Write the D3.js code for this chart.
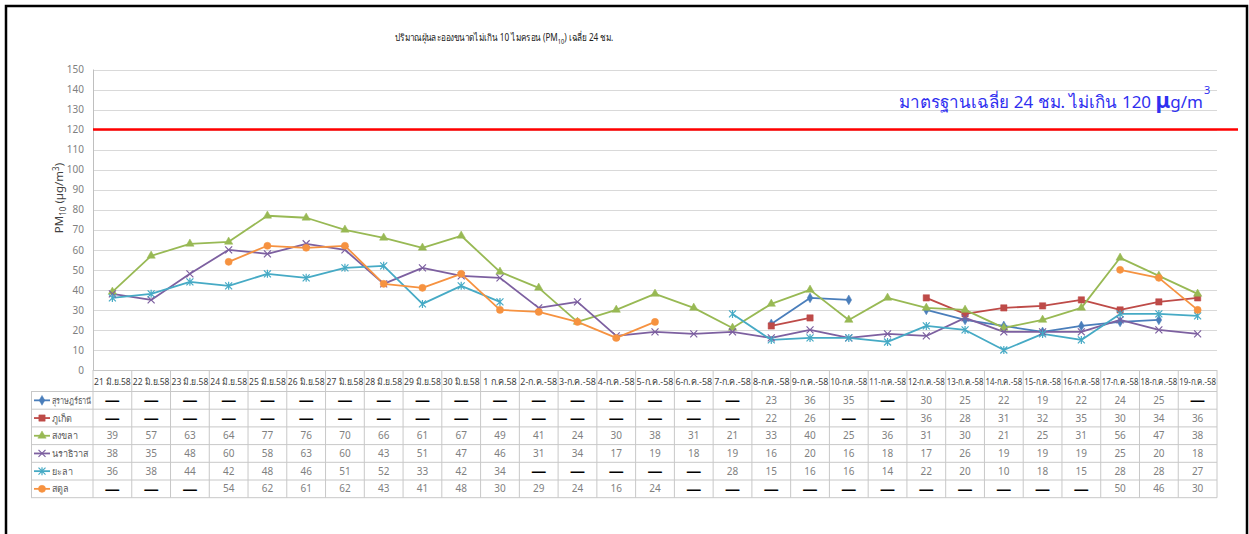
<!DOCTYPE html>
<html>
<head>
<meta charset="utf-8">
<script src="https://cdn.jsdelivr.net/npm/d3@7"></script>
<style>
  body { margin: 0; background: #fff; }
  svg { display: block; font-family: Tahoma, "Noto Sans", "DejaVu Sans", sans-serif; }
</style>
</head>
<body>
<div id="main"></div>
<script>
// Categories (dates)
const dates = ['21 มิ.ย.58', '22 มิ.ย.58', '23 มิ.ย.58', '24 มิ.ย.58', '25 มิ.ย.58', '26 มิ.ย.58', '27 มิ.ย.58',
  '28 มิ.ย.58', '29 มิ.ย.58', '30 มิ.ย.58', '1 ก.ค.58', '2-ก.ค.-58', '3-ก.ค.-58', '4-ก.ค.-58', '5-ก.ค.-58',
  '6-ก.ค.-58', '7-ก.ค.-58', '8-ก.ค.-58', '9-ก.ค.-58', '10-ก.ค.-58', '11-ก.ค.-58', '12-ก.ค.-58', '13-ก.ค.-58',
  '14-ก.ค.-58', '15-ก.ค.-58', '16-ก.ค.-58', '17-ก.ค.-58', '18-ก.ค.-58', '19-ก.ค.-58'];

// Series values (null = no data)
const surat = [null, null, null, null, null, null, null, null, null, null, null, null, null, null, null, null, null,
  23, 36, 35, null, 30, 25, 22, 19, 22, 24, 25, null];
const phuket = [null, null, null, null, null, null, null, null, null, null, null, null, null, null, null, null, null,
  22, 26, null, null, 36, 28, 31, 32, 35, 30, 34, 36];
const songkhla = [39, 57, 63, 64, 77, 76, 70, 66, 61, 67, 49, 41, 24, 30, 38, 31, 21, 33, 40, 25, 36, 31, 30, 21, 25, 31, 56, 47, 38];
const narathiwat = [38, 35, 48, 60, 58, 63, 60, 43, 51, 47, 46, 31, 34, 17, 19, 18, 19, 16, 20, 16, 18, 17, 26, 19, 19, 19, 25, 20, 18];
const yala = [36, 38, 44, 42, 48, 46, 51, 52, 33, 42, 34, null, null, null, null, null, 28, 15, 16, 16, 14, 22, 20, 10, 18, 15, 28, 28, 27];
const satun = [null, null, null, 54, 62, 61, 62, 43, 41, 48, 30, 29, 24, 16, 24, null, null, null, null, null, null,
  null, null, null, null, null, 50, 46, 30];

const seriesNames = ['สุราษฎร์ธานี', 'ภูเก็ต', 'สงขลา', 'นราธิวาส', 'ยะลา', 'สตูล'];
const yTicks = [0, 10, 20, 30, 40, 50, 60, 70, 80, 90, 100, 110, 120, 130, 140, 150];
const standardValue = 120;

const series = [
  { name: seriesNames[0], values: surat, color: '#4a7ebb', marker: 'diamond' },
  { name: seriesNames[1], values: phuket, color: '#be4b48', marker: 'square' },
  { name: seriesNames[2], values: songkhla, color: '#98b954', marker: 'triangle' },
  { name: seriesNames[3], values: narathiwat, color: '#7d60a0', marker: 'x' },
  { name: seriesNames[4], values: yala, color: '#46aac5', marker: 'star' },
  { name: seriesNames[5], values: satun, color: '#f69240', marker: 'circle' }
];

// Dimensions
const W = 1249, H = 534;
const plotLeft = 93, plotRight = 1217, plotTop = 69.5, plotBottom = 370;
const rowTop = 391.5, rowH = 17.7;
const legendX = 31;

const svg = d3.select('#main').append('svg')
  .attr('width', W)
  .attr('height', H);

svg.append('rect').attr('width', W).attr('height', H).attr('fill', '#fff');

// squeeze a text horizontally if it is wider than maxW
function squeeze(sel, maxW) {
  sel.each(function () {
    if (this.getComputedTextLength() > maxW) {
      d3.select(this).attr('textLength', maxW).attr('lengthAdjust', 'spacingAndGlyphs');
    }
  });
}

// outer frame
svg.append('path')
  .attr('d', `M6,${H + 5} V6 H1247 V${H + 5}`)
  .attr('fill', 'none')
  .attr('stroke', '#000')
  .attr('stroke-width', 2.5);

// Scales
const x = d3.scaleBand().domain(d3.range(dates.length)).range([plotLeft, plotRight]);
const y = d3.scaleLinear().domain([0, 150]).range([plotBottom, plotTop]);
const cx = (i) => x(i) + x.bandwidth() / 2;

// Gridlines
svg.append('g')
  .selectAll('line')
  .data(yTicks)
  .join('line')
  .attr('x1', plotLeft).attr('x2', plotRight)
  .attr('y1', (d) => Math.round(y(d)) + 0.5).attr('y2', (d) => Math.round(y(d)) + 0.5)
  .attr('stroke', '#d9d9d9');

svg.append('line')
  .attr('x1', plotLeft + 0.5).attr('x2', plotLeft + 0.5)
  .attr('y1', plotTop).attr('y2', plotBottom)
  .attr('stroke', '#bfbfbf');

// Y axis labels
const yAxis = d3.axisLeft(y).tickValues(yTicks).tickSize(0).tickPadding(9);
svg.append('g')
  .attr('transform', `translate(${plotLeft},0)`)
  .call(yAxis)
  .call((g) => g.select('.domain').remove())
  .selectAll('text')
  .style('font-family', 'Tahoma, "Noto Sans", "DejaVu Sans", sans-serif')
  .style('font-size', '10px')
  .attr('fill', '#7f7f7f');

// Y axis title
const yTitle = svg.append('text')
  .attr('transform', 'translate(63,198) rotate(-90)')
  .attr('text-anchor', 'middle')
  .attr('fill', '#404040')
  .style('font-size', '11.5px');
yTitle.append('tspan').text('PM');
yTitle.append('tspan').attr('dy', 3).style('font-size', '8px').text('10');
yTitle.append('tspan').attr('dy', -3).text(' (µg/m');
yTitle.append('tspan').attr('dy', -4).style('font-size', '8px').text('3');
yTitle.append('tspan').attr('dy', 4).text(')');

// Chart title (narrowed a bit towards the reference width)
const titleG = svg.append('g');
const title = titleG.append('text')
  .attr('text-anchor', 'middle')
  .attr('fill', '#222')
  .style('font-size', '10px');
title.append('tspan').text('ปริมาณฝุ่นละอองขนาดไม่เกิน 10 ไมครอน (PM');
title.append('tspan').attr('dy', 3).style('font-size', '7px').text('10');
title.append('tspan').attr('dy', -3).text(') เฉลี่ย 24 ชม.');
const titleW = title.node().getBBox().width;
titleG.attr('transform', `translate(504,41) scale(${Math.min(1, 222 / titleW)},1)`);

// Standard line
svg.append('line')
  .attr('x1', plotLeft).attr('x2', 1238)
  .attr('y1', y(standardValue)).attr('y2', y(standardValue))
  .attr('stroke', '#ff0000')
  .attr('stroke-width', 2.5);

const std = svg.append('text')
  .attr('x', 1203).attr('y', 108)
  .attr('text-anchor', 'end')
  .attr('fill', '#3030f0')
  .style('font-size', '17px');
std.append('tspan').text('มาตรฐานเฉลี่ย 24 ชม. ไม่เกิน 120 ');
std.append('tspan').style('font-size', '22px').style('font-weight', 'bold').text('μ');
std.append('tspan').text('g/m');
svg.append('text')
  .attr('x', 1204).attr('y', 94)
  .attr('fill', '#3030f0')
  .style('font-size', '11px')
  .text('3');

// Markers
function markerPath(type) {
  if (type === 'diamond') return d3.symbol(d3.symbolDiamond, 28)();
  if (type === 'square') return d3.symbol(d3.symbolSquare, 40)();
  if (type === 'triangle') return d3.symbol(d3.symbolTriangle, 30)();
  if (type === 'circle') return d3.symbol(d3.symbolCircle, 40)();
  if (type === 'x') return 'M-3.5,-3.5L3.5,3.5M-3.5,3.5L3.5,-3.5';
  return 'M-3.5,-3.5L3.5,3.5M-3.5,3.5L3.5,-3.5M0,-4L0,4';
}
function drawMarker(g, s, px, py) {
  const stroked = s.marker === 'x' || s.marker === 'star';
  g.append('path')
    .attr('d', markerPath(s.marker))
    .attr('transform', `translate(${px},${py})`)
    .attr('fill', stroked ? 'none' : s.color)
    .attr('stroke', s.color)
    .attr('stroke-width', stroked ? 1.2 : 0.5);
}

// Lines
const line = d3.line()
  .defined((d) => d != null)
  .x((d, i) => cx(i))
  .y((d) => y(d));

const plot = svg.append('g');
series.forEach((s) => {
  plot.append('path')
    .attr('d', line(s.values))
    .attr('fill', 'none')
    .attr('stroke', s.color)
    .attr('stroke-width', 1.8)
    .attr('stroke-linejoin', 'round');
});
series.forEach((s) => {
  s.values.forEach((v, i) => {
    if (v != null) drawMarker(plot, s, cx(i), y(v));
  });
});

// Data table
const table = svg.append('g');
const gridColor = '#c8c8c8';
const nRows = series.length;
const tableBottom = rowTop + nRows * rowH;

// horizontal lines
table.append('line')
  .attr('x1', plotLeft).attr('x2', plotRight)
  .attr('y1', plotBottom + 0.5).attr('y2', plotBottom + 0.5)
  .attr('stroke', gridColor);
d3.range(nRows + 1).forEach((r) => {
  table.append('line')
    .attr('x1', legendX).attr('x2', plotRight)
    .attr('y1', rowTop + r * rowH).attr('y2', rowTop + r * rowH)
    .attr('stroke', gridColor);
});
// vertical lines
table.append('line')
  .attr('x1', legendX + 0.5).attr('x2', legendX + 0.5)
  .attr('y1', rowTop).attr('y2', tableBottom)
  .attr('stroke', gridColor);
d3.range(dates.length + 1).forEach((i) => {
  const xx = i < dates.length ? x(i) : plotRight;
  table.append('line')
    .attr('x1', xx).attr('x2', xx)
    .attr('y1', plotBottom).attr('y2', tableBottom)
    .attr('stroke', gridColor);
});

// header labels
table.selectAll('text.cat')
  .data(dates)
  .join('text')
  .attr('class', 'cat')
  .attr('x', (d, i) => cx(i))
  .attr('y', 384.5)
  .attr('text-anchor', 'middle')
  .attr('fill', '#404040')
  .style('font-size', '9px')
  .text((d) => d)
  .call(squeeze, x.bandwidth() - 2);

// rows
series.forEach((s, r) => {
  const ry = rowTop + r * rowH + rowH / 2;
  table.append('line')
    .attr('x1', legendX + 3).attr('x2', legendX + 19)
    .attr('y1', ry).attr('y2', ry)
    .attr('stroke', s.color)
    .attr('stroke-width', 1.8);
  drawMarker(table, s, legendX + 11, ry);
  table.append('text')
    .attr('x', legendX + 21).attr('y', ry + 3.5)
    .attr('fill', '#595959')
    .style('font-size', '9px')
    .text(s.name)
    .call(squeeze, plotLeft - legendX - 23);

  s.values.forEach((v, i) => {
    if (v != null) {
      table.append('text')
        .attr('x', cx(i)).attr('y', ry + 3.5)
        .attr('text-anchor', 'middle')
        .attr('fill', '#7f7f7f')
        .style('font-size', '10px')
        .text(v);
    } else {
      table.append('text')
        .attr('x', cx(i)).attr('y', ry + 5)
        .attr('text-anchor', 'middle')
        .attr('fill', '#000')
        .style('font-size', '15px')
        .style('font-weight', 'bold')
        .text('—');
    }
  });
});
</script>
</body>
</html>
